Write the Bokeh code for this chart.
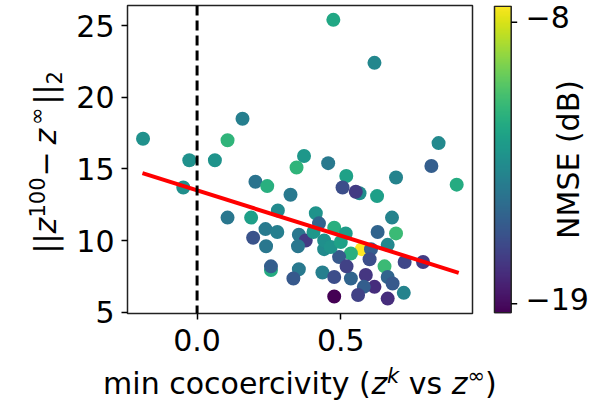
import math
import numpy as np
from bokeh.plotting import figure
from bokeh.models import (LinearColorMapper, FixedTicker, Span,
                          ColumnDataSource, Range1d)
from bokeh.core.properties import value
from bokeh.layouts import row, column
from bokeh.palettes import Viridis256
from bokeh.embed import file_html
from bokeh.resources import INLINE

# ---------------- data ----------------
cocoercivity = [0.573, 0.474, 0.617, 0.158, -0.188, 0.106, -0.027, 0.062, 0.372, 0.346,
                0.456, 0.519, 0.692, 0.203, 0.244, -0.048, 0.565, 0.506, 0.552, 0.325,
                0.626, 0.281, 0.106, 0.188, 0.413, 0.678, 0.238, 0.279, 0.477, 0.517,
                0.424, 0.628, 0.692, 0.195, 0.354, 0.378, 0.240, 0.351, 0.442, 0.535,
                0.605, 0.663, 0.494, 0.722, 0.786, 0.652, 0.257, 0.257, 0.354, 0.335,
                0.436, 0.477, 0.535, 0.587, 0.663, 0.719, 0.477, 0.663, 0.617, 0.580,
                0.840, 0.815, 0.903, 0.442, 0.465, 0.520, 0.600, 0.680, 0.560, 0.500,
                0.405]
distance = [9.4, 25.4, 22.4, 18.5, 17.1, 17.0, 15.6, 15.6, 15.9, 15.1,
            15.4, 14.5, 14.4, 14.1, 13.8, 13.7, 13.3, 13.7, 13.4, 13.2,
            13.1, 12.1, 11.6, 11.6, 11.9, 11.6, 10.8, 10.6, 10.9, 10.5,
            11.2, 10.6, 10.5, 10.2, 10.4, 10.0, 9.6, 9.6, 9.4, 9.1,
            9.4, 9.7, 8.85, 8.5, 8.5, 8.2, 7.95, 8.2, 8.0, 7.35,
            7.77, 7.46, 7.35, 7.6, 7.46, 6.35, 6.1, 5.95, 6.77, 6.77,
            16.8, 15.2, 13.9, 10.0, 9.55, 8.2, 8.7, 7.0, 6.2, 9.9,
            10.6]
nmse_db = [-7.35, -12.2, -13.8, -14.2, -13.3, -11.5, -13.3, -13.2, -13.0, -11.5,
           -14.5, -12.5, -14.0, -14.8, -11.8, -13.4, -13.5, -16.5, -17.3, -14.5,
           -12.6, -13.6, -14.6, -12.6, -13.2, -14.0, -14.4, -14.2, -11.8, -12.8,
           -15.5, -15.5, -11.2, -16.3, -14.6, -17.3, -14.6, -14.6, -13.6, -11.8,
           -15.8, -13.8, -16.0, -16.8, -17.3, -11.2, -12.0, -15.8, -14.5, -16.0,
           -14.2, -16.5, -15.5, -17.5, -15.5, -14.0, -19.38, -17.8, -17.8, -15.8,
           -13.7, -15.8, -12.0, -13.4, -13.2, -17.0, -16.5, -16.0, -17.0, -12.5,
           -13.0]
fit_x = [-0.19, 0.91]
fit_y = [14.7, 7.75]
threshold_x = 0.0
x_ticks = [0.0, 0.5]
x_tick_labels = ["0.0", "0.5"]
y_ticks = [5, 10, 15, 20, 25]
cbar_ticks = [-19, -8]
cbar_tick_labels = ["\u221219", "\u22128"]
nmse_low, nmse_high = -19.38, -7.35
x_limits = (-0.242, 0.958)
y_limits = (4.91, 26.4)
cbar_label = "NMSE (dB)"
# x label pieces: text, superscript?, italic?
xlabel_parts = [("min cocoercivity (", 0, 0), ("z", 0, 1), ("k", 1, 1), ("vs", 0, 0),
                ("z", 0, 1), ("\u221e", 1, 0), (")", 0, 0)]
# y label pieces: text, script (0 normal, 1 sup, -1 sub), italic?
ylabel_parts = [("||", 0, 0), ("z", 0, 1), ("100", 1, 0), ("\u2212", 0, 0), ("z", 0, 1),
                ("\u221e", 1, 0), ("||", 0, 0), ("2", -1, 0)]

# ---------------- layout constants (page pixels) ----------------
FONT = "DejaVu Sans"
FS_PX, FS_SCRIPT_PX = 30, 21
FS, FS_SCRIPT = f"{FS_PX}px", f"{FS_SCRIPT_PX}px"
SHIFT = 0.347            # measured baseline drop of svg text, in em
W, H = 608, 400
FRAME_L, FRAME_R, FRAME_T, FRAME_B = 127, 472, 5, 313
YLAB_W = 70
ROW_B = 363
xlabel_pos = [102.6, 370.9, 386.6, 408.3, 451.3, 467.1, 484.6]
XB = 393 - SHIFT * FS_PX
XS = 383 - SHIFT * FS_SCRIPT_PX
ylabel_pos = [253, 233, 217, 176, 144, 124.5, 104, 84]
YB = 55 - SHIFT * FS_PX
YS = 43.5 - SHIFT * FS_SCRIPT_PX
YD = 61 - SHIFT * FS_SCRIPT_PX
BORDERS = dict(min_border_top=FRAME_T, min_border_bottom=ROW_B - FRAME_B)

mapper = LinearColorMapper(palette=Viridis256, low=nmse_low, high=nmse_high)
src = ColumnDataSource(dict(x=cocoercivity, y=distance, c=nmse_db))

# ---------------- main scatter ----------------
p = figure(frame_width=FRAME_R - FRAME_L, frame_height=FRAME_B - FRAME_T,
           min_border_left=FRAME_L - YLAB_W, min_border_right=10, **BORDERS,
           x_range=Range1d(*x_limits), y_range=Range1d(*y_limits),
           output_backend="svg", toolbar_location=None)
p.grid.visible = False
p.outline_line_color = "#222222"
p.outline_line_width = 1.5

p.scatter("x", "y", source=src, size=14,
          fill_color={"field": "c", "transform": mapper}, line_color=None)
p.add_layout(Span(location=threshold_x, dimension="height", line_color="black",
                  line_width=3, line_dash="10 5"))
p.line(fit_x, fit_y, line_color="red", line_width=4)

for ax in (p.xaxis[0], p.yaxis[0]):
    ax.axis_line_color = None
    ax.major_tick_out = 6
    ax.major_tick_in = 0
    ax.minor_tick_line_color = None
    ax.major_tick_line_color = "black"
    ax.major_tick_line_width = 1.5
    ax.major_label_text_font = FONT
    ax.major_label_text_font_size = FS
    ax.major_label_text_color = "black"
p.xaxis.ticker = FixedTicker(ticks=x_ticks)
p.xaxis.major_label_overrides = {t: s for t, s in zip(x_ticks, x_tick_labels)}
p.xaxis.major_label_standoff = 9
p.yaxis.ticker = FixedTicker(ticks=y_ticks)
p.yaxis.major_label_standoff = 7


def blank(fig):
    fig.grid.visible = False
    fig.outline_line_color = None
    return fig


TXT = dict(text_font=value(FONT), text_color="black")

# ---------------- y label panel (frame = page pixels) ----------------
ylab = blank(figure(width=YLAB_W, height=ROW_B, min_border_left=0, min_border_right=0,
                    **BORDERS,
                    x_range=Range1d(0, YLAB_W), y_range=Range1d(FRAME_B, FRAME_T),
                    x_axis_location=None, y_axis_location=None,
                    output_backend="svg", toolbar_location=None))
for (txt, scr, it), py in zip(ylabel_parts, ylabel_pos):
    bx = {0: YB, 1: YS, -1: YD}[scr]
    ylab.text(x=[bx], y=[py], text=[txt], angle=math.pi / 2, text_align="left",
              text_baseline="alphabetic", text_font_size=FS_SCRIPT if scr else FS,
              text_font_style="italic" if it else "normal", **TXT)

# ---------------- colour bar panel ----------------
CB_L, CB_R = 494, 510.7
ppu = (303.3 - 21.7) / (cbar_ticks[1] - cbar_ticks[0])
cb_top = cbar_ticks[1] + (21.7 - FRAME_T) / ppu
cb_bot = cbar_ticks[1] - (FRAME_B - 21.7) / ppu
cb_x0 = FRAME_R + 10
cb = blank(figure(width=W - cb_x0, height=ROW_B, min_border_left=0, min_border_right=0,
                  **BORDERS,
                  x_range=Range1d(cb_x0, W), y_range=Range1d(cb_bot, cb_top),
                  x_axis_location=None, y_axis_location=None,
                  output_backend="svg", toolbar_location=None))
grad = np.linspace(nmse_low, nmse_high, 256).reshape(-1, 1)
cb.image(image=[grad], x=CB_L, y=nmse_low, dw=CB_R - CB_L, dh=nmse_high - nmse_low,
         color_mapper=mapper)
cb.quad(left=[CB_L], right=[CB_R], bottom=[max(nmse_low, cb_bot + 0.03)],
        top=[min(nmse_high, cb_top - 0.03)],
        fill_color=None, line_color="#222222", line_width=1.5)
cb.segment(x0=[CB_R] * len(cbar_ticks), x1=[CB_R + 6] * len(cbar_ticks),
           y0=cbar_ticks, y1=cbar_ticks, line_color="black", line_width=1.5)
MID_SHIFT = 5 / ppu
cb.text(x=[CB_R + 14.3] * len(cbar_ticks), y=[t + MID_SHIFT for t in cbar_ticks],
        text=cbar_tick_labels, text_align="left", text_baseline="middle",
        text_font_size=FS, **TXT)
mid_val = (cb_top + cb_bot) / 2
cb.text(x=[568], y=[mid_val], text=[cbar_label], angle=math.pi / 2,
        text_align="center", text_baseline="middle", text_font_size=FS, **TXT)

# ---------------- x label panel ----------------
xlab = blank(figure(width=W, height=H - ROW_B, min_border=0,
                    x_range=Range1d(0, W), y_range=Range1d(H, ROW_B),
                    x_axis_location=None, y_axis_location=None,
                    output_backend="svg", toolbar_location=None))
for (txt, scr, it), px in zip(xlabel_parts, xlabel_pos):
    xlab.text(x=[px], y=[XS if scr else XB], text=[txt], text_align="left",
              text_baseline="alphabetic", text_font_size=FS_SCRIPT if scr else FS,
              text_font_style="italic" if it else "normal", **TXT)

layout = column(row(ylab, p, cb), xlab)
open("out.html", "w").write(file_html(layout, INLINE))
